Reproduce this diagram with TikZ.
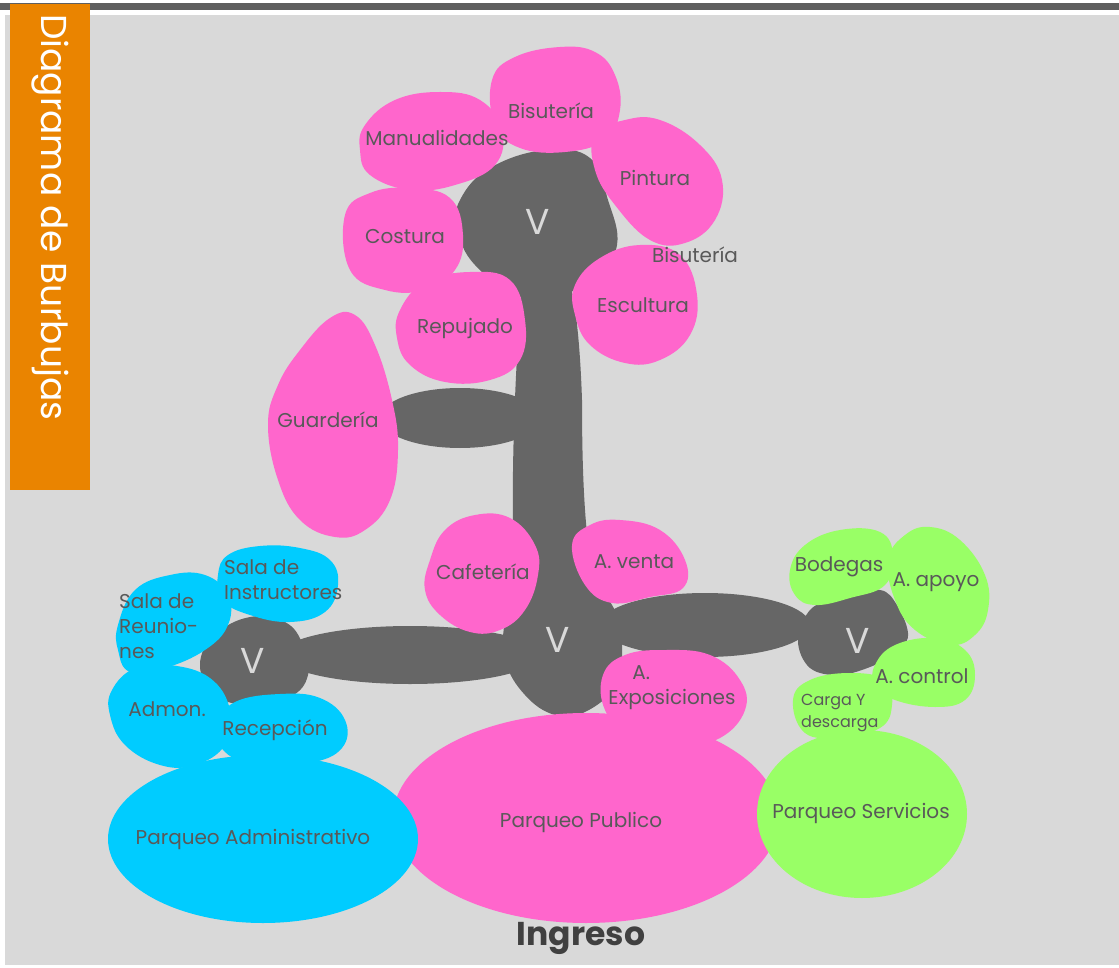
\documentclass[tikz,border=0pt]{standalone}
\usepackage{fontspec}
\setmainfont{Poppins}
\definecolor{bgc}{HTML}{D9D9D9}
\definecolor{barc}{HTML}{5F5F5F}
\definecolor{orc}{HTML}{EA8400}
\definecolor{pinkc}{HTML}{FF66CC}
\definecolor{bluec}{HTML}{00CCFF}
\definecolor{greenc}{HTML}{99FF66}
\definecolor{grayc}{HTML}{666666}
\definecolor{txtc}{HTML}{595959}
\definecolor{ingc}{HTML}{404040}
\begin{document}
\begin{tikzpicture}[x=1pt,y=-1pt,
  lbl/.style={text=txtc,font=\fontsize{20}{25}\selectfont,inner sep=0pt},
  vlbl/.style={text=bgc,font=\fontsize{36}{36}\selectfont,inner sep=0pt},
  blob/.style={smooth cycle,tension=0.7}]
\useasboundingbox (0,0) rectangle (1119,968);
% background
\fill[white] (0,0) rectangle (1119,968);
\fill[bgc] (5,15) rectangle (1119,965);
\fill[barc] (0,3) rectangle (1119,10);
\fill[orc] (10,4) rectangle (90,490);
\node[rotate=-90,anchor=west,text=white,inner sep=0pt,font=\fontsize{36}{38}\selectfont] (title) at (50,14) {Diagrama de Burbujas};

% gray circulation
\fill[grayc] plot[blob] coordinates {(460,200) (490,168) (545,150) (590,158) (608,200) (617,245) (595,278) (560,295) (520,297) (475,265) (458,230)};
\fill[grayc] (522,285) .. controls (514,380) and (510,500) .. (515,590) -- (600,600) .. controls (585,560) and (582,480) .. (582,400) .. controls (580,340) and (575,300) .. (570,285) -- cycle;
\fill[grayc] (460,418) ellipse[x radius=80,y radius=30];
\fill[grayc] plot[blob] coordinates {(515,590) (545,578) (590,585) (612,605) (622,640) (615,685) (585,712) (555,715) (525,695) (505,660) (505,620)};
\fill[grayc] (410,655) ellipse[x radius=130,y radius=29];
\fill[grayc] plot[blob] coordinates {(200,665) (215,635) (250,617) (285,622) (303,645) (308,675) (290,697) (250,705) (215,695)};
\fill[grayc] (705,625) ellipse[x radius=105,y radius=32];
\fill[grayc] plot[smooth cycle,tension=0.6] coordinates {(798,640) (812,608) (845,598) (880,590) (897,605) (908,633) (900,650) (875,665) (840,675) (810,668)};

% pink
\fill[pinkc] plot[blob] coordinates {(365,125) (395,100) (440,92) (480,100) (502,130) (495,165) (455,185) (410,190) (370,175) (360,150)};
\fill[pinkc] plot[blob] coordinates {(492,80) (515,57) (560,47) (595,52) (615,75) (620,110) (605,140) (565,152) (520,148) (495,125)};
\fill[pinkc] plot[blob] coordinates {(595,135) (625,120) (660,120) (700,145) (722,180) (715,220) (685,243) (650,240) (615,205) (595,170)};
\fill[pinkc] plot[blob] coordinates {(345,215) (370,193) (410,188) (450,198) (463,235) (455,270) (425,290) (385,290) (350,270)};
\fill[pinkc] plot[blob] coordinates {(575,285) (600,258) (640,245) (680,255) (697,295) (690,335) (660,360) (625,363) (590,345) (575,315)};
\fill[pinkc] plot[blob] coordinates {(400,310) (425,282) (470,272) (510,280) (525,320) (520,360) (490,380) (445,382) (410,365) (397,338)};
\fill[pinkc] plot[blob] coordinates {(300,350) (330,318) (355,315) (375,345) (392,400) (398,450) (390,500) (365,530) (335,537) (300,520) (278,480) (268,425) (278,385)};
\fill[pinkc] plot[blob] coordinates {(430,560) (445,530) (475,515) (510,518) (535,545) (538,575) (525,610) (500,630) (470,632) (440,615) (425,590)};
\fill[pinkc] plot[blob] coordinates {(572,545) (590,525) (620,520) (660,530) (685,560) (683,588) (650,597) (612,603) (585,585)};
\fill[pinkc] plot[blob] coordinates {(603,675) (625,655) (665,650) (710,655) (740,680) (745,710) (720,738) (680,745) (630,735) (605,710)};
\fill[pinkc] (586,818) ellipse[x radius=193,y radius=105];

% blue
\fill[bluec] plot[blob] coordinates {(218,575) (228,555) (260,546) (300,548) (330,560) (338,585) (325,612) (290,622) (250,615) (222,600)};
\fill[bluec] plot[blob] coordinates {(118,625) (135,590) (170,575) (205,575) (228,595) (228,625) (205,650) (165,668) (130,672) (118,650)};
\fill[bluec] plot[blob] coordinates {(112,690) (135,668) (170,665) (210,678) (230,710) (225,745) (195,765) (160,765) (125,745) (110,715)};
\fill[bluec] plot[blob] coordinates {(218,725) (235,702) (280,694) (320,698) (345,720) (342,748) (310,763) (260,765) (225,752)};
\fill[bluec] (263,839) ellipse[x radius=155,y radius=84];

% green
\fill[greenc] plot[blob] coordinates {(790,570) (805,545) (840,530) (880,532) (893,555) (885,585) (850,598) (815,605) (795,595)};
\fill[greenc] plot[blob] coordinates {(888,560) (905,535) (930,527) (960,540) (985,575) (988,610) (975,635) (950,645) (915,630) (895,600)};
\fill[greenc] plot[blob] coordinates {(875,665) (895,645) (935,638) (965,650) (975,675) (965,700) (935,707) (895,700) (875,685)};
\fill[greenc] plot[blob] coordinates {(793,700) (810,680) (850,673) (885,680) (892,705) (880,728) (840,737) (805,733)};
\fill[greenc] (862,814) ellipse[x radius=105,y radius=84];

% V labels
\node[vlbl] (v1) at (538,222) {V};
\node[vlbl] (v2) at (558,640) {V};
\node[vlbl] (v3) at (253,661) {V};
\node[vlbl] (v4) at (858,641) {V};

% labels
\node[lbl] (manual) at (437,138) {Manualidades};
\node[lbl] (bis1) at (551,111) {Bisutería};
\node[lbl] (pint) at (655,178) {Pintura};
\node[lbl] (cost) at (405,237) {Costura};
\node[lbl] (bis2) at (695,255) {Bisutería};
\node[lbl] (escu) at (643,305) {Escultura};
\node[lbl] (repu) at (465,328) {Repujado};
\node[lbl] (guard) at (328,420) {Guardería};
\node[lbl] (cafe) at (483,572) {Cafetería};
\node[lbl] (venta) at (634,562) {A. venta};
\node[lbl,align=left] (expo) at (672,688) {\hspace*{24pt}A.\\Exposiciones};
\node[lbl] (ppub) at (581,822) {Parqueo Publico};
\node[lbl,align=left,anchor=west] (instr) at (224,580) {Sala de\\Instructores};
\node[lbl,align=left,anchor=west] (reun) at (119,626) {Sala de\\Reunio-\\nes};
\node[lbl] (admon) at (167,709) {Admon.};
\node[lbl] (recep) at (275,730) {Recepción};
\node[lbl] (padm) at (253,839) {Parqueo Administrativo};
\node[lbl] (bode) at (839,567) {Bodegas};
\node[lbl] (apoyo) at (936,582) {A. apoyo};
\node[lbl] (contr) at (922,676) {A. control};
\node[lbl,align=left,anchor=west,font=\fontsize{16}{22}\selectfont] (carga) at (801,713) {Carga Y\\descarga};
\node[lbl] (pserv) at (861,813) {Parqueo Servicios};
\node[inner sep=0pt,text=ingc,font=\fontsize{33}{36}\selectfont\bfseries] (ingreso) at (581,938) {Ingreso};
\end{tikzpicture}
\end{document}
